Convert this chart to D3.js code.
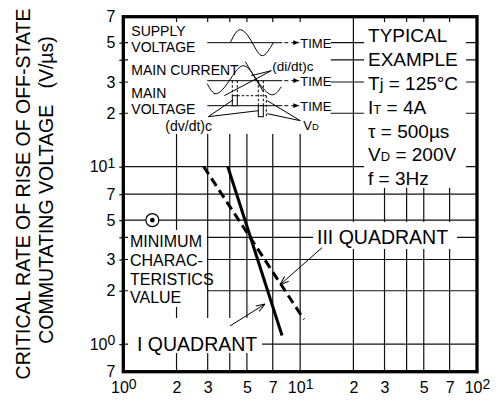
<!DOCTYPE html>
<html>
<head>
<meta charset="utf-8">
<script src="https://cdn.jsdelivr.net/npm/d3@7"></script>
<style>
  body { margin: 0; background: #fff; }
  svg { display: block; font-family: "Liberation Sans", Arial, Helvetica, sans-serif; }
</style>
</head>
<body>
<svg id="chart" width="498" height="401"></svg>
<script>
// ---- chart values ----
const xTicks = [1, 2, 3, 5, 7, 10, 20, 30, 50, 70, 100];
const xTickLabels = [["10", "0"], ["2"], ["3"], ["5"], ["7"], ["10", "1"], ["2"], ["3"], ["5"], ["7"], ["10", "2"]];
const yTicks = [70, 50, 30, 20, 10, 7, 5, 3, 2, 1, 0.7];
const yTickLabels = [["7"], ["5"], ["3"], ["2"], ["10", "1"], ["7"], ["5"], ["3"], ["2"], ["10", "0"], ["7"]];
const xGrid = [2, 3, 4, 5, 7, 10, 20, 30, 40, 50, 70];
const yGrid = [1, 2, 3, 4, 5, 7, 10, 20, 30, 40, 50];

// characteristic lines (x: A/ms, y: V/us)
const quadrantI = [[3.9, 10], [7.9, 1.12]];
const quadrantIII = [[2.85, 10], [10.5, 1.38]];
const minimumPoint = [[1.46, 5]];

const conditions = ["TYPICAL", "EXAMPLE", "Tj = 125°C", "IT = 4A", "τ = 500µs", "VD = 200V", "f = 3Hz"];
const minimumNote = ["MINIMUM", "CHARAC-", "TERISTICS", "VALUE"];

const svg = d3.select("#chart");

const x = d3.scaleLog().domain([1, 100]).range([123.3, 477]);
const y = d3.scaleLog().domain([0.7, 70]).range([371.7, 16.7]);

svg.append("defs").html(
  '<marker id="arr" viewBox="0 0 10 10" refX="10" refY="5" markerWidth="9" markerHeight="9" orient="auto" markerUnits="userSpaceOnUse">' +
  '<path d="M0,1.5 L10,5 L0,8.5" fill="none" stroke="#000" stroke-width="1.1"/></marker>' +
  '<marker id="arrs" viewBox="0 0 10 10" refX="10" refY="5" markerWidth="6" markerHeight="6" orient="auto" markerUnits="userSpaceOnUse">' +
  '<path d="M0,1 L10,5 L0,9 Z" fill="#000"/></marker>');

// ---- grid ----
const grid = svg.append("g").attr("stroke", "#111").attr("stroke-width", 1.2);
grid.selectAll("line.v").data(xGrid).join("line")
  .attr("class", "v")
  .attr("x1", d => x(d)).attr("x2", d => x(d))
  .attr("y1", y(70)).attr("y2", y(0.7));
grid.selectAll("line.h").data(yGrid).join("line")
  .attr("class", "h")
  .attr("x1", x(1)).attr("x2", x(100))
  .attr("y1", d => y(d)).attr("y2", d => y(d));

// small outside ticks on the left edge
const leftTicks = svg.append("g")
  .attr("transform", `translate(${x(1)},0)`)
  .call(d3.axisLeft(y).tickValues(yGrid).tickSize(4).tickFormat(""));
leftTicks.select(".domain").remove();
leftTicks.selectAll("line").attr("stroke", "#111").attr("stroke-width", 1.2);

// ---- white areas behind the notes ----
const maskBoxes = [
  [1.063, 14.9, 15.3, 65.3],   // wave sketch
  [23, 86.7, 7.6, 65.3],       // test conditions
  [1.063, 2.97, 1.62, 4.4],    // minimum note
  [1.063, 6.09, 0.892, 1.405], // I quadrant
  [11.82, 77.1, 3.44, 4.88]    // III quadrant
];
svg.append("g").selectAll("rect").data(maskBoxes).join("rect")
  .attr("x", d => x(d[0])).attr("width", d => x(d[1]) - x(d[0]))
  .attr("y", d => y(d[3])).attr("height", d => y(d[2]) - y(d[3]))
  .attr("fill", "#fff");

// ---- characteristic lines ----
const line = d3.line().x(d => x(d[0])).y(d => y(d[1]));
svg.append("path").datum(quadrantI)
  .attr("d", line).attr("fill", "none").attr("stroke", "#000").attr("stroke-width", 3);
svg.append("path").datum(quadrantIII)
  .attr("d", line).attr("fill", "none").attr("stroke", "#000").attr("stroke-width", 3)
  .attr("stroke-dasharray", "9,5");

const pt = svg.append("g").selectAll("g").data(minimumPoint).join("g")
  .attr("transform", d => `translate(${x(d[0])},${y(d[1])})`);
pt.append("circle").attr("r", 6.5).attr("fill", "#fff").attr("stroke", "#000").attr("stroke-width", 1.2);
pt.append("circle").attr("r", 2.3).attr("fill", "#000");

// ---- notes ----
const notes = svg.append("g").attr("fill", "#000");

notes.append("text")
  .attr("x", x(1.195)).attr("y", y(1) + 7)
  .attr("font-size", 19.5).text("I QUADRANT");
notes.append("text")
  .attr("x", x(12.45)).attr("y", y(4) + 7)
  .attr("font-size", 19.5).text("III QUADRANT");

notes.selectAll("text.minv").data(minimumNote).join("text")
  .attr("class", "minv")
  .attr("x", x(1.091)).attr("y", (d, i) => y(3.52) + i * 18.7)
  .attr("font-size", 16).text(d => d);

const pointers = [
  [[4.01, 1.266], [6.33, 1.685]],
  [[13.3, 3.5], [7.69, 2.16]]
];
svg.append("g").selectAll("path").data(pointers).join("path")
  .attr("d", line).attr("fill", "none").attr("stroke", "#000").attr("stroke-width", 1)
  .attr("marker-end", "url(#arr)");

// test conditions block
const cond = svg.append("g")
  .attr("transform", `translate(${x(24.2)},${y(70)})`)
  .attr("font-size", 19);
cond.selectAll("text").data(conditions).join("text")
  .attr("x", 0).attr("y", (d, i) => 25.3 + i * 23.9)
  .each(function (d) {
    const t = d3.select(this);
    const sub = { "Tj": ["T", "j", 17], "IT": ["I", "T", 13], "VD": ["V", "D", 13] }[d.slice(0, 2)];
    if (sub) {
      t.append("tspan").text(sub[0]);
      t.append("tspan").attr("font-size", sub[2]).text(sub[1]);
      t.append("tspan").text(d.slice(2));
    } else {
      t.text(d);
    }
  });

// ---- wave sketch (upper left) ----
const dg = svg.append("g")
  .attr("transform", `translate(${x(1)},${y(70)})`)
  .attr("stroke", "#000").attr("fill", "none").attr("stroke-width", 1);

const sketchLabels = [
  ["SUPPLY", 8, 19], ["VOLTAGE", 8, 35], ["MAIN CURRENT", 8, 58], ["MAIN", 8, 81], ["VOLTAGE", 8, 97]
];
dg.selectAll("text.lab").data(sketchLabels).join("text")
  .attr("class", "lab").attr("stroke", "none").attr("fill", "#000")
  .attr("font-size", 14).attr("x", d => d[1]).attr("y", d => d[2]).text(d => d[0]);

const timeAxes = [26, 64, 89];
dg.selectAll("line.ax").data(timeAxes).join("line")
  .attr("class", "ax").attr("x1", 84).attr("x2", 159).attr("y1", d => d).attr("y2", d => d);
dg.selectAll("line.arw").data(timeAxes).join("line")
  .attr("class", "arw").attr("x1", 161).attr("x2", 176).attr("y1", d => d).attr("y2", d => d)
  .attr("stroke-dasharray", "4,3").attr("marker-end", "url(#arrs)");
dg.selectAll("text.time").data(timeAxes).join("text")
  .attr("class", "time").attr("stroke", "none").attr("fill", "#000")
  .attr("font-size", 13).attr("x", 177).attr("y", d => d + 5).text("TIME");

const wave = d3.line().curve(d3.curveNatural);
const supplyWave = [[107, 26], [117, 13], [129, 26], [139, 39], [150, 26]];
const currentWave = [[84, 67], [93, 77], [106, 64], [120, 49], [134, 64], [148, 78], [158, 70]];
dg.append("path").attr("d", wave(supplyWave));
dg.append("path").attr("d", wave(currentWave));

// commutation markers
const dashed = [
  [109, 64, 109, 79], [114, 64, 114, 79], [135, 64, 135, 89], [140, 64, 140, 89],
  [114, 79, 143, 79], [143, 79, 143, 100]
];
dg.selectAll("line.dsh").data(dashed).join("line")
  .attr("class", "dsh").attr("stroke-dasharray", "2.5,2")
  .attr("x1", d => d[0]).attr("y1", d => d[1]).attr("x2", d => d[2]).attr("y2", d => d[3]);
dg.append("rect").attr("x", 109).attr("y", 79).attr("width", 5).attr("height", 10).attr("fill", "#fff");
dg.append("rect").attr("x", 135).attr("y", 89).attr("width", 5).attr("height", 11).attr("fill", "#fff");

const leaders = [
  [85, 100, 110, 83], [85, 100, 135, 94],      // (dv/dt)c
  [148, 54, 101, 79], [148, 54, 128, 59],      // (di/dt)c
  [122, 45, 140, 75],                          // slope at zero crossing
  [177, 104, 144, 84], [177, 104, 144, 97]     // VD
];
dg.selectAll("line.ld").data(leaders).join("line")
  .attr("class", "ld")
  .attr("x1", d => d[0]).attr("y1", d => d[1]).attr("x2", d => d[2]).attr("y2", d => d[3]);

dg.append("text").attr("stroke", "none").attr("fill", "#000").attr("font-size", 14)
  .attr("x", 42).attr("y", 114).text("(dv/dt)c");
dg.append("text").attr("stroke", "none").attr("fill", "#000").attr("font-size", 13.5)
  .attr("x", 149).attr("y", 54).text("(di/dt)c");
const vd = dg.append("text").attr("stroke", "none").attr("fill", "#000").attr("font-size", 13)
  .attr("x", 180).attr("y", 113);
vd.append("tspan").text("V");
vd.append("tspan").attr("font-size", 9.5).text("D");

// ---- frame ----
svg.append("rect")
  .attr("x", x(1)).attr("y", y(70))
  .attr("width", x(100) - x(1)).attr("height", y(0.7) - y(70))
  .attr("fill", "none").attr("stroke", "#000").attr("stroke-width", 3.3);

// ---- axis labels ----
function powerLabels(sel, values, labels) {
  sel.selectAll(".tick text").each(function (d) {
    const lab = labels[values.indexOf(d)];
    const t = d3.select(this).text(null);
    t.append("tspan").text(lab[0]);
    if (lab[1]) t.append("tspan").attr("dy", -4.5).attr("font-size", 14).text(lab[1]);
  });
}

const xAxis = svg.append("g")
  .attr("transform", `translate(0,${y(0.7)})`)
  .call(d3.axisBottom(x).tickValues(xTicks).tickSize(0).tickPadding(10).tickFormat(""));
xAxis.select(".domain").remove();
xAxis.attr("font-family", null).attr("font-size", 16);
powerLabels(xAxis, xTicks, xTickLabels);

const yAxis = svg.append("g")
  .attr("transform", `translate(${x(1)},0)`)
  .call(d3.axisLeft(y).tickValues(yTicks).tickSize(0).tickPadding(8).tickFormat(""));
yAxis.select(".domain").remove();
yAxis.attr("font-family", null).attr("font-size", 16);
powerLabels(yAxis, yTicks, yTickLabels);

// ---- y title ----
const title = ["CRITICAL RATE OF RISE OF OFF-STATE", "COMMUTATING VOLTAGE   (V/µs)"];
const titleCenter = [194, 190];
svg.selectAll("text.ytitle").data(title).join("text")
  .attr("class", "ytitle")
  .attr("transform", (d, i) => `translate(${30 + i * 23},${titleCenter[i]}) rotate(-90)`)
  .attr("text-anchor", "middle").attr("font-size", 19.5)
  .style("white-space", "pre")
  .text(d => d);
</script>
</body>
</html>
